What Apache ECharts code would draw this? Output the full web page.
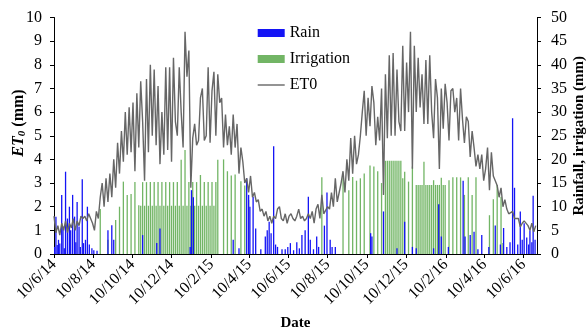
<!DOCTYPE html>
<html>
<head>
<meta charset="utf-8">
<script src="https://cdn.jsdelivr.net/npm/echarts@6/dist/echarts.min.js"></script>
<style>
  html, body { margin: 0; padding: 0; background: #fff; }
  #chart { width: 588px; height: 331px; }
</style>
</head>
<body>
<div id="chart"></div>
<script>
// day 0 = 10/6/2014, values every 3 days
const startDate = Date.UTC(2014, 5, 10)
const step = 3
const xMaxDay = 752

const tickLabels = ['10/6/14', '10/8/14', '10/10/14', '10/12/14', '10/2/15', '10/4/15', '10/6/15',
  '10/8/15', '10/10/15', '10/12/15', '10/2/16', '10/4/16', '10/6/16']

const et0 = [
  1.6, 0.9, 1.2, 0.8, 1.3, 1.0, 1.4, 0.9, 1.3, 1.1,
  1.5, 1.0, 1.4, 1.2, 1.6, 1.5, 1.6, 1.4, 1.7, 1.5,
  1.3, 1.0, 1.8, 1.5, 2.4, 3.0, 2.0, 3.2, 2.2, 3.4,
  2.4, 4.0, 2.8, 4.7, 3.4, 5.2, 3.9, 6.0, 4.2, 6.2,
  4.3, 6.4, 3.5, 6.8, 4.5, 7.3, 5.6, 3.1, 7.4, 4.3,
  8.0, 5.0, 7.8, 4.6, 7.1, 3.8, 6.0, 4.2, 7.9, 4.4,
  7.9, 3.9, 8.3, 5.6, 5.0, 7.9, 6.0, 4.5, 9.4, 7.5,
  8.6, 2.8, 4.9, 5.5, 4.6, 4.8, 6.6, 7.0, 4.8, 5.0,
  7.9, 4.7, 6.9, 7.7, 5.0, 7.6, 6.4, 6.6, 4.5, 5.9,
  4.6, 5.4, 4.2, 5.9, 4.5, 5.5, 3.4, 4.5, 3.9, 3.0,
  3.2, 2.6, 3.3, 2.4, 2.6, 2.2, 2.3, 1.8, 1.9, 1.6,
  1.8, 1.4, 1.6, 1.3, 1.6, 1.5, 1.9, 2.0, 1.5, 1.4,
  1.7, 1.3, 1.6, 1.7, 1.5, 1.4, 1.6, 1.9, 1.5, 1.6,
  1.4, 1.5, 1.7, 1.5, 1.8, 1.3, 1.9, 2.1, 1.5, 2.5,
  1.7, 1.7, 2.0, 1.9, 2.6, 2.0, 3.2, 2.2, 2.6, 3.0,
  3.5, 2.6, 4.0, 3.1, 4.9, 3.4, 5.0, 3.8, 4.2, 5.0,
  6.0, 6.9, 5.0, 6.6, 5.4, 7.1, 6.4, 4.6, 5.8, 4.8,
  7.0, 2.5, 7.6, 4.9, 8.4, 5.0, 8.5, 5.0, 7.8, 5.6,
  5.2, 8.8, 5.2, 8.1, 6.0, 9.4, 3.6, 8.8, 6.0, 8.3,
  6.2, 7.6, 5.5, 8.2, 5.5, 8.4, 6.0, 4.9, 7.4, 6.6,
  3.6, 7.0, 5.3, 7.2, 6.4, 4.8, 6.9, 7.0, 6.0, 6.6,
  4.8, 7.0, 5.7, 4.7, 5.8, 5.6, 4.1, 5.2, 4.5, 3.7,
  4.2, 3.6, 4.2, 3.1, 3.6, 4.5, 2.7, 4.3, 3.3, 3.3,
  2.9, 2.4, 2.8, 2.0, 2.3, 1.9, 1.7, 1.65, 1.8, 1.5,
  1.44, 1.5, 1.15, 1.3, 1.4, 1.37, 1.2, 1.0, 1.3, 0.94, 1.2
]

// irrigation, season 1 from day 72, season 2 from day 417, every 3 days (0 = none)
const irrig1Start = 72
const irrig1 = [
  9.5, 0, 0, 0, 3.0, 0, 0, 0, 7.2, 0,
  10.0, 0, 15.3, 0, 12.5, 0, 12.7, 0, 15.2, 0,
  10.3, 10.2, 15.2, 10.2, 15.2, 10.2, 15.2, 10.2, 15.2, 10.2,
  15.2, 10.2, 15.2, 10.2, 15.2, 10.2, 15.2, 10.2, 15.2, 10.2,
  15.2, 10.2, 19.9, 10.2, 22.0, 10.2, 15.2, 10.2, 15.2, 10.2,
  15.2, 10.2, 16.7, 10.2, 15.2, 10.2, 15.2, 10.2, 15.2, 10.2,
  15.2, 19.9, 0, 0, 20.0, 0, 17.5, 0, 16.6, 0,
  16.8, 0, 0, 15.4, 0, 14.5, 0, 11.4
]
const irrig2Start = 417
const irrig2 = [
  16.2, 0, 0, 0, 0, 0, 0, 0, 0, 0,
  0, 16.2, 0, 0, 13.5, 0, 16.3, 0, 15.5, 0,
  16.0, 0, 17.0, 0, 0, 18.7, 0, 18.5, 0, 17.5,
  0, 15.0, 0, 19.7, 19.7, 19.7, 19.7, 19.7, 19.7, 19.7,
  19.7, 19.7, 16.0, 17.4, 0, 15.3, 0, 18.5, 0, 14.6,
  14.6, 14.6, 14.6, 19.5, 14.6, 14.6, 14.6, 14.6, 15.6, 14.6,
  14.6, 14.6, 16.1, 14.6, 14.6, 0, 15.6, 0, 16.2, 0,
  16.2, 0, 16.2, 0, 12.5, 0, 16.2, 0, 12.5, 0,
  16.2, 0, 0, 0, 0, 0, 0, 8.2, 0, 11.6,
  0, 14.6, 0, 12.1, 2.3
]

const rainDay = [1, 3, 5, 7, 9, 12, 14, 16, 18, 21,
  24, 26, 29, 32, 34, 36, 39, 41, 44, 46,
  49, 52, 55, 59, 62, 67, 84, 90, 93, 138,
  160, 165, 212, 214, 217, 279, 288, 300, 303, 305,
  310, 314, 322, 329, 332, 335, 338, 342, 345, 348,
  355, 360, 364, 368, 373, 378, 382, 386, 391, 396,
  399, 404, 409, 412, 421, 425, 430, 433, 438, 493,
  495, 513, 534, 546, 558, 564, 591, 599, 603, 614,
  637, 640, 648, 654, 660, 666, 677, 687, 695, 700,
  705, 710, 714, 717, 722, 726, 729, 732, 736, 739,
  741, 744, 746, 749]
const rainMm = [1.5, 7.9, 1.9, 3.0, 2.2, 12.5, 5.8, 1.2, 17.4, 7.5,
  10.0, 5.0, 12.5, 7.9, 2.5, 11.0, 5.8, 1.5, 15.8, 2.3,
  3.0, 10.0, 2.0, 1.2, 0.8, 0.7, 5.0, 6.1, 3.0, 4.0,
  2.3, 5.4, 1.5, 13.5, 12.0, 3.0, 1.2, 16.0, 12.5, 10.0,
  12.1, 5.4, 1.0, 3.7, 5.0, 6.8, 4.4, 22.8, 2.0, 1.5,
  1.0, 1.0, 1.5, 2.3, 0.8, 2.5, 1.2, 4.0, 5.0, 12.1,
  3.0, 1.0, 3.7, 1.5, 6.0, 13.0, 3.0, 1.5, 1.5, 4.4,
  3.7, 9.0, 1.2, 6.8, 1.5, 1.2, 1.2, 10.5, 3.7, 1.5,
  15.5, 3.7, 4.0, 4.7, 1.0, 4.0, 1.5, 6.0, 2.0, 5.5,
  1.5, 2.5, 28.7, 14.0, 2.0, 9.0, 3.0, 6.5, 3.5, 2.0,
  5.0, 2.5, 12.3, 3.0]

const font = 'Liberation Serif'
const lineColor = '#666'

const tickDays = tickLabels.map(function (s) {
  const p = s.split('/')
  return Math.round((Date.UTC(2000 + Number(p[2]), Number(p[1]) - 1, Number(p[0])) - startDate) / 86400000)
})

const et0Data = et0.map(function (v, i) { return [i * step, v] })
function stepPairs (start, arr) {
  const out = []
  arr.forEach(function (v, i) { if (v > 0) out.push([start + i * step, v]) })
  return out
}
const irrigData = stepPairs(irrig1Start, irrig1).concat(stepPairs(irrig2Start, irrig2))
const rainData = rainDay.map(function (d, i) { return [d, rainMm[i]] })

const chart = echarts.init(document.getElementById('chart'))
const axisText = { color: '#000', fontFamily: font, fontSize: 16 }
const option = {
  animation: false,
  grid: { left: 54, right: 51, top: 17.5, bottom: 77, outerBoundsMode: 'none' },
  legend: {
    orient: 'vertical',
    left: 257,
    top: 25,
    padding: 0,
    itemWidth: 27,
    itemHeight: 8,
    itemGap: 10,
    textStyle: { color: '#000', fontFamily: font, fontSize: 16 },
    data: [
      { name: 'Rain', icon: 'rect' },
      { name: 'Irrigation', icon: 'rect' },
      { name: 'ET0', itemStyle: { opacity: 0 }, lineStyle: { color: lineColor, width: 1.4 } }
    ]
  },
  graphic: [{
    type: 'text',
    x: 19,
    y: 123,
    rotation: Math.PI / 2,
    style: {
      text: '{a|ET}{b|0}{c| (mm)}',
      align: 'center',
      verticalAlign: 'middle',
      fill: '#000',
      rich: {
        a: { fontFamily: font, fontSize: 16, fontStyle: 'italic', fontWeight: 'bold', lineHeight: 18 },
        b: { fontFamily: font, fontSize: 11, fontStyle: 'italic', fontWeight: 'bold', lineHeight: 10, verticalAlign: 'bottom' },
        c: { fontFamily: font, fontSize: 16, fontWeight: 'bold', lineHeight: 18 }
      }
    }
  }],
  xAxis: {
    type: 'value',
    min: 0,
    max: xMaxDay,
    name: 'Date',
    nameLocation: 'middle',
    nameGap: 62,
    nameMoveOverlap: false,
    nameTextStyle: { color: '#000', fontFamily: font, fontSize: 15, fontWeight: 'bold' },
    splitLine: { show: false },
    axisLine: { lineStyle: { color: '#000', width: 1 } },
    axisTick: { length: 4, lineStyle: { color: '#000' }, customValues: tickDays },
    axisLabel: Object.assign({}, axisText, {
      rotate: 45,
      margin: 8,
      customValues: tickDays,
      formatter: function (v) {
        const k = tickDays.indexOf(Math.round(v))
        return k >= 0 ? tickLabels[k] : ''
      }
    })
  },
  yAxis: [
    {
      type: 'value',
      min: 0,
      max: 10,
      interval: 1,
      splitLine: { show: false },
      axisLine: { show: true, lineStyle: { color: '#000', width: 1 } },
      axisTick: { show: true, length: 4, lineStyle: { color: '#000' } },
      axisLabel: Object.assign({}, axisText, { margin: 12 })
    },
    {
      type: 'value',
      min: 0,
      max: 50,
      interval: 5,
      position: 'right',
      name: 'Rainfall, irrigation (mm)',
      nameLocation: 'middle',
      nameRotate: 90,
      nameGap: 35,
      nameMoveOverlap: false,
      nameTextStyle: { color: '#000', fontFamily: font, fontSize: 15, fontWeight: 'bold' },
      splitLine: { show: false },
      axisLine: { show: true, lineStyle: { color: '#000', width: 1 } },
      axisTick: { show: true, length: 4, lineStyle: { color: '#000' } },
      axisLabel: Object.assign({}, axisText, { margin: 14 })
    }
  ],
  series: [
    {
      name: 'Irrigation',
      type: 'bar',
      yAxisIndex: 1,
      barWidth: 1.3,
      barGap: '-100%',
      itemStyle: { color: '#4fa33f', opacity: 0.8 },
      data: irrigData
    },
    {
      name: 'Rain',
      type: 'bar',
      yAxisIndex: 1,
      barWidth: 1.3,
      barGap: '-100%',
      itemStyle: { color: '#1414f5' },
      data: rainData
    },
    {
      name: 'ET0',
      type: 'line',
      yAxisIndex: 0,
      symbol: 'none',
      z: 5,
      lineStyle: { color: lineColor, width: 1.4 },
      itemStyle: { color: lineColor },
      data: et0Data
    }
  ]
}
chart.setOption(option)
</script>
</body>
</html>
